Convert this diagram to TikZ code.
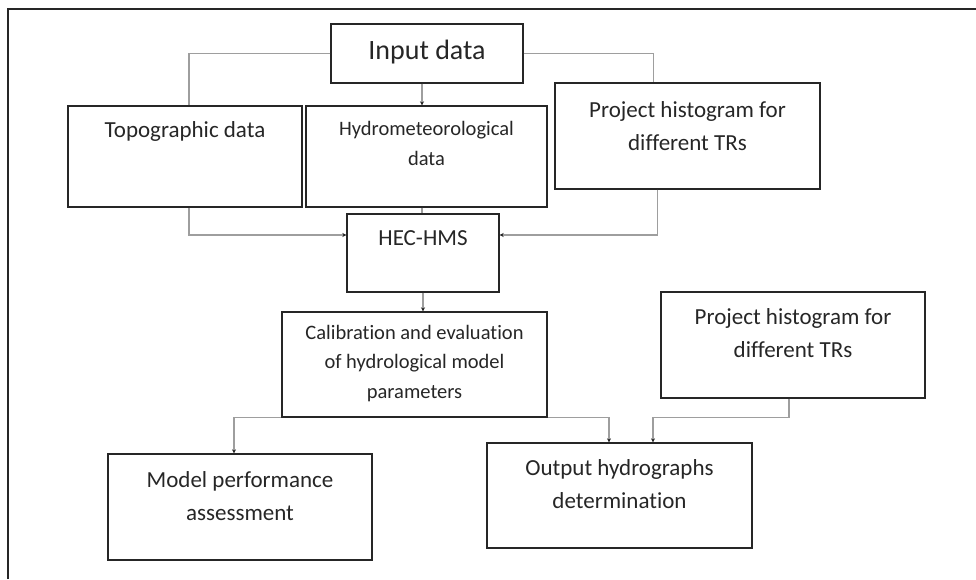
\documentclass[tikz,border=0pt]{standalone}
\usepackage{fontspec}
\setmainfont{Carlito}[Ligatures=CommonOff]
\usetikzlibrary{arrows.meta, positioning}

\begin{document}
\begin{tikzpicture}[x=1pt, y=-1pt,
	main/.style 2 args = {draw=black!85, line width=1.4pt, minimum width=#1, minimum height=#2, inner sep=0pt},
	txt/.style = {align=center, inner sep=0pt, text=black!85, font=\fontsize{23}{33}\selectfont},
	small/.style = {txt, font=\fontsize{20.5}{29.5}\selectfont},
	link/.style = {draw=black!38, line width=1.3pt},
	arr/.style = {link, -{Stealth[length=4pt, width=4pt, color=black!85]}}]
		\useasboundingbox (0,0) rectangle (976,579);
		\draw[black!85, line width=1.5pt] (8,579) -- (8,9) -- (976,9);
		% boxes
		\node[main={192}{59}] (1) at (427,53.5) {};
		\node[main={234}{101}] (2) at (185,156.5) {};
		\node[main={241}{101}] (3) at (426.5,156.5) {};
		\node[main={265}{106}] (4) at (687.5,136) {};
		\node[main={152}{78}] (5) at (423,253) {};
		\node[main={265}{105}] (6) at (414.5,364.5) {};
		\node[main={264}{106}] (7) at (240,507) {};
		\node[main={265}{105}] (8) at (619.5,495.5) {};
		\node[main={264}{106}] (9) at (793,345) {};
		% texts
		\node[txt, font=\fontsize{28}{34}\selectfont] (t1) at (427,52) {Input data};
		\node[txt] (t2) at (185,131) {Topographic data};
		\node[small] (t3) at (426.5,143.5) {Hydrometeorological\\data};
		\node[txt] (t4) at (687.5,126.5) {Project histogram for\\different TRs};
		\node[txt] (t5) at (423,238) {HEC-HMS};
		\node[small] (t6) at (414.5,363.5) {Calibration and evaluation\\of hydrological model\\parameters};
		\node[txt] (t7) at (240,496) {Model performance\\assessment};
		\node[txt] (t8) at (619.5,484.5) {Output hydrographs\\determination};
		\node[txt] (t9) at (793,333.5) {Project histogram for\\different TRs};
		% connectors
		\draw[link] (1.west) -| ([xshift=4pt]2.north);
		\draw[link] (1.east) -| ([xshift=-34pt]4.north);
		\draw[arr] ([xshift=-5pt]1.south) -- ([xshift=-5pt]1.south |- 3.north);
		\draw[link] ([xshift=-5pt]1.south |- 3.south) -- ([xshift=-5pt]1.south |- 5.north);
		\draw[arr] ([xshift=4pt]2.south) |- ([yshift=18pt]5.west);
		\draw[arr] ([xshift=-30pt]4.south) |- ([yshift=18pt]5.east);
		\draw[arr] (5.south) -- (5.south |- 6.north);
		\draw[arr] (6.south west) -| ([xshift=-6pt]7.north);
		\draw[arr] (6.south east) -| ([xshift=-10.5pt]8.north);
		\draw[arr] ([xshift=-4pt]9.south) -- ([xshift=-4pt]9.south |- 6.south) -| ([xshift=33.5pt]8.north);
	\end{tikzpicture}
\end{document}
